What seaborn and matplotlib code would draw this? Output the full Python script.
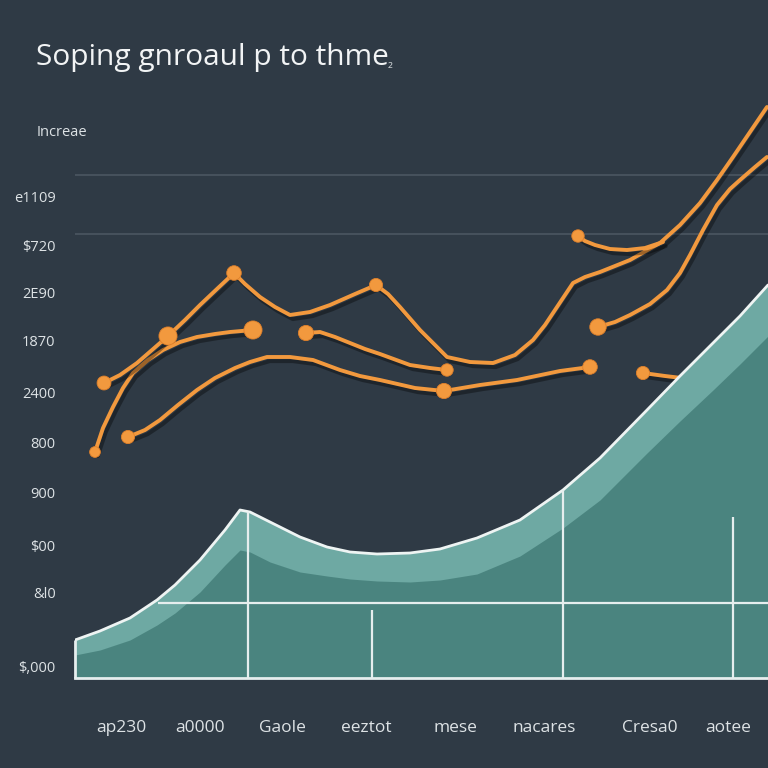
import numpy as np
import pandas as pd
import matplotlib.pyplot as plt
import seaborn as sns
from matplotlib import patheffects as pe

# colours
BG = '#2f3a45'
ORANGE = '#f2993e'
TEAL_LIGHT = '#6ea9a3'
TEAL_DARK = '#4a847f'
TEXT = '#dde2e5'

# ------------------------------------------------------------------
# data (x = position along the axis, v = value)
title = 'Soping gnroaul p to thme'
corner_label = 'Increae'

y_ticks = [571, 523, 475, 428, 376, 326, 275, 223, 175, 101]
y_labels = ['e1109', '$720', '2E90', '1870', '2400', '800', '900', '$00', '&l0', '$,000']
grid_v = [593, 534]

x_ticks = [121, 200, 282, 366, 455, 544, 650, 728]
x_labels = ['ap230', 'a0000', 'Gaole', 'eeztot', 'mese', 'nacares', 'Cresa0', 'aotee']

a_x = [95, 103, 113, 123, 133, 148, 163, 180, 197, 215, 230, 253]
a_v = [316, 340, 361, 380, 395, 408, 418, 426, 431, 434, 436, 438]

b_x = [104, 120, 137, 152, 168, 185, 200, 218, 234, 245, 260, 275, 290, 310,
       330, 355, 376, 388, 400, 420, 435, 447, 470, 493, 515, 533, 545, 555,
       565, 573, 585, 600, 630, 660, 680, 700, 717, 733, 750, 767]
b_v = [385, 393, 405, 418, 432, 448, 463, 480, 495, 484, 471, 461, 453, 456,
       463, 474, 483, 474, 461, 438, 423, 411, 406, 405, 413, 428, 443, 458,
       473, 485, 491, 496, 508, 525, 543, 565, 588, 611, 636, 661]

c_x = [128, 145, 160, 178, 197, 215, 235, 250, 267, 290, 313, 340, 360, 380,
       415, 444, 480, 517, 560, 590]
c_v = [331, 338, 348, 363, 378, 390, 400, 406, 411, 411, 408, 398, 392, 388,
       380, 377, 383, 388, 397, 401]

d_x = [306, 320, 335, 350, 365, 380, 410, 430, 447]
d_v = [435, 436, 431, 425, 419, 414, 403, 400, 398]

e_x = [578, 585, 595, 610, 627, 645, 663]
e_v = [532, 527, 523, 519, 518, 520, 526]

f_x = [598, 615, 630, 650, 667, 680, 690, 703, 717, 730, 740, 755, 767]
f_v = [441, 446, 453, 464, 478, 495, 513, 538, 563, 579, 588, 601, 611]

g_x = [643, 665, 690]
g_v = [395, 392, 389]

dot_x = [95, 253, 104, 168, 234, 376, 128, 444, 590, 306, 447, 578, 598, 643]
dot_v = [316, 438, 385, 432, 495, 483, 331, 377, 401, 435, 398, 532, 441, 395]
dot_s = [90, 200, 130, 200, 140, 120, 120, 150, 140, 150, 110, 110, 170, 120]

area_x = [75, 100, 130, 157, 175, 200, 225, 240, 250, 270, 300, 327, 350, 377,
          410, 440, 477, 520, 563, 600, 647, 680, 713, 740, 768]
area_top = [128, 137, 150, 168, 183, 208, 238, 258, 256, 246, 231, 221, 216, 214,
            215, 219, 230, 248, 278, 310, 358, 392, 425, 452, 483]
area_inner = [113, 118, 128, 143, 155, 176, 203, 218, 216, 206, 196, 192, 189, 187,
              186, 188, 194, 212, 240, 268, 315, 347, 378, 404, 432]

vline_x = [248, 372, 563, 733]
vline_top = [256, 158, 278, 251]
hline_v = 165
hline_x0 = 158

# ------------------------------------------------------------------
sns.set_theme(style='dark', rc={'axes.facecolor': BG, 'figure.facecolor': BG})
plt.rcParams['font.family'] = ['Open Sans', 'DejaVu Sans']

fig = plt.figure(figsize=(7.68, 7.68), dpi=100)
ax = fig.add_axes([75 / 768, 90 / 768, 693 / 768, 578 / 768])
ax.set_facecolor(BG)
ax.set_xlim(75, 768)
ax.set_ylim(90, 668)

# faint horizontal gridlines
for v in grid_v:
    ax.axhline(v, color='#4b5661', lw=1.2, zorder=1)

# orange lines with soft shadow
shadow = [pe.SimpleLineShadow(offset=(2, -3), alpha=0.35, shadow_color='black'), pe.Normal()]
for xs, vs in [(a_x, a_v), (b_x, b_v), (c_x, c_v), (d_x, d_v), (e_x, e_v), (f_x, f_v), (g_x, g_v)]:
    sns.lineplot(x=xs, y=vs, sort=False, estimator=None, color=ORANGE, lw=2.8,
                 ax=ax, zorder=3, path_effects=shadow,
                 solid_joinstyle='round', solid_capstyle='round')

dots = pd.DataFrame({'x': dot_x, 'v': dot_v, 's': dot_s})
sns.scatterplot(data=dots, x='x', y='v', size='s', sizes=(60, 170), color=ORANGE,
                edgecolor='#e0802a', linewidth=0.6, legend=False, ax=ax, zorder=3.5)

# teal mountain
ax.fill_between(area_x, 90, area_top, color=TEAL_LIGHT, lw=0, zorder=4)
ax.fill_between(area_x, 90, area_inner, color=TEAL_DARK, lw=0, zorder=4.1)
ax.plot(area_x, area_top, color='#eef4f3', lw=2, zorder=4.5, solid_joinstyle='round')

# white guide lines on the mountain
ax.vlines(vline_x, 90, vline_top, color='#e6eeee', lw=1.6, zorder=4.6)
ax.hlines(hline_v, hline_x0, 768, color='#e6eeee', lw=1.6, zorder=4.6)
ax.vlines(75, 90, area_top[0], color='#e6eeee', lw=2, zorder=4.6, clip_on=False)

# axes styling
for s in ['top', 'right', 'left']:
    ax.spines[s].set_visible(False)
ax.spines['bottom'].set_color('#e6eeee')
ax.spines['bottom'].set_linewidth(2)
ax.spines['bottom'].set_zorder(5)

ax.set_yticks(y_ticks, y_labels)
ax.tick_params(axis='y', length=12, width=1, color='#5b6670', pad=2,
               labelsize=10.5, labelcolor=TEXT)
for t in ax.yaxis.get_major_ticks()[:4]:
    t.tick1line.set_visible(False)

ax.set_xticks(x_ticks, x_labels)
ax.tick_params(axis='x', length=0, pad=30, labelsize=12.5, labelcolor=TEXT)
ax.set_xlabel('')
ax.set_ylabel('')
ax.grid(False)

fig.text(36 / 768, 1 - 57 / 768, title, color='#f2f4f5', fontsize=21.5, va='center', ha='left')
fig.text(388 / 768, 1 - 63 / 768, '₂', color='#c8cdd0', fontsize=10, va='center')
fig.text(37 / 768, 1 - 133 / 768, corner_label, color=TEXT, fontsize=10.5, va='center', ha='left')

fig.savefig('out.png', dpi=100, facecolor=BG)
